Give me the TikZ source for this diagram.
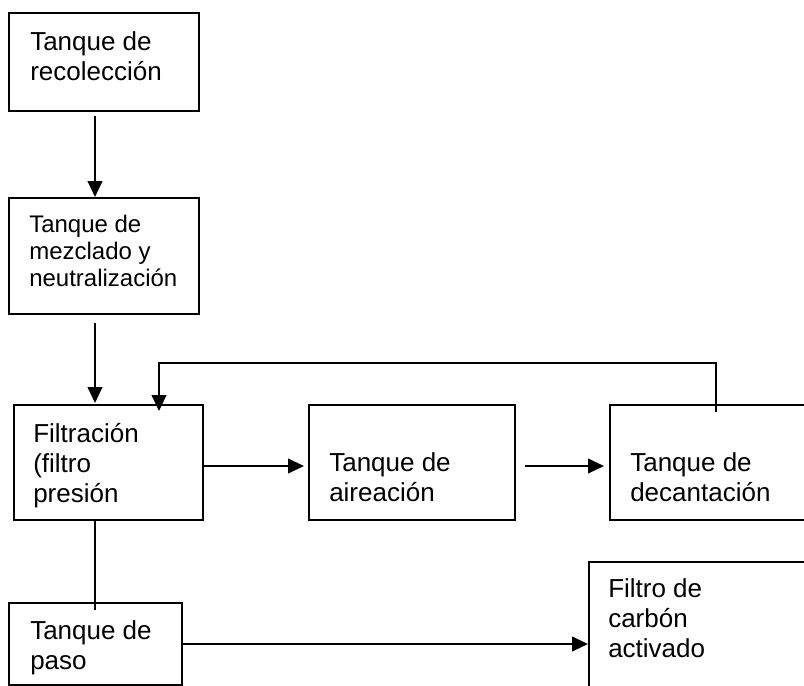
\documentclass[tikz,border=0pt]{standalone}
\usepackage{fontspec}
\setmainfont{Liberation Sans}
\usetikzlibrary{arrows.meta}
\begin{document}
\begin{tikzpicture}[x=0.75pt, y=-0.75pt,
  box/.style={draw, line width=1.5pt, inner sep=0pt, anchor=north west},
  txt/.style={anchor=north west, inner sep=0pt, align=left,
    font=\fontsize{19.5pt}{22.5pt}\selectfont},
  txtsmall/.style={anchor=north west, inner sep=0pt, align=left,
    font=\fontsize{18pt}{20.3pt}\selectfont},
  link/.style={line width=1.5pt},
  flow/.style={line width=1.5pt, -{Triangle[length=12pt, width=11pt]}}]
\useasboundingbox (0,0) rectangle (804,686);
\clip (0,0) rectangle (804,686);

% process boxes
\node[box, minimum width=142.5pt, minimum height=73.5pt]  (recol)  at (8,12)   {};
\node[box, minimum width=142.5pt, minimum height=87pt]    (mezcla) at (8,197)  {};
\node[box, minimum width=141.75pt, minimum height=86.25pt] (filtr) at (13,404)  {};
\node[box, minimum width=154.5pt, minimum height=86.25pt] (airea)  at (308,404) {};
\node[box, minimum width=180pt, minimum height=86.25pt]   (decant) at (609,404) {};
\node[box, minimum width=129.75pt, minimum height=61.5pt] (paso)   at (8,602)  {};
\node[box, minimum width=187.5pt, minimum height=120pt]   (carbon) at (588,561) {};

% box labels
\node[txt]      (recolT)  at (30,31)   {Tanque de\\recolección};
\node[txtsmall] (mezclaT) at (29,215)  {Tanque de\\mezclado y\\neutralización};
\node[txt]      (filtrT)  at (33,423)  {Filtración\\(filtro\\presión};
\node[txt]      (aireaT)  at (329,452) {Tanque de\\aireación};
\node[txt]      (decantT) at (630,452) {Tanque de\\decantación};
\node[txt]      (pasoT)   at (30,620)  {Tanque de\\paso};
\node[txt]      (carbonT) at (608,578) {Filtro de\\carbón\\activado};

% routing guides
\coordinate (colA) at (95,0);
\coordinate (fbR)  at (716,363);
\coordinate (fbL)  at (159,363);
\coordinate (rowB) at (0,466);
\coordinate (rowC) at (0,644);

% main line
\draw[flow] ([yshift=-3pt]recol.south -| colA) -- (mezcla.north -| colA);
\draw[flow] ([yshift=-6pt]mezcla.south -| colA) -- ([yshift=0.75pt]filtr.north -| colA);
\draw[flow] (filtr.east |- rowB) -- ([xshift=-3pt]airea.west |- rowB);
\draw[flow] ([xshift=6.75pt]airea.east |- rowB) -- ([xshift=-3.75pt]decant.west |- rowB);

% return line from the settler to the filter
\draw[flow] ([yshift=-6pt]decant.north -| fbR) -- (fbR) -- (fbL)
  -- ([yshift=-5.25pt]filtr.north -| fbL);

% filter outlet to the pass tank and on to the carbon filter
\draw[link] (filtr.south -| colA) -- ([yshift=-6pt]paso.north -| colA);
\draw[flow] (paso.east |- rowC) -- (carbon.west |- rowC);
\end{tikzpicture}
\end{document}
